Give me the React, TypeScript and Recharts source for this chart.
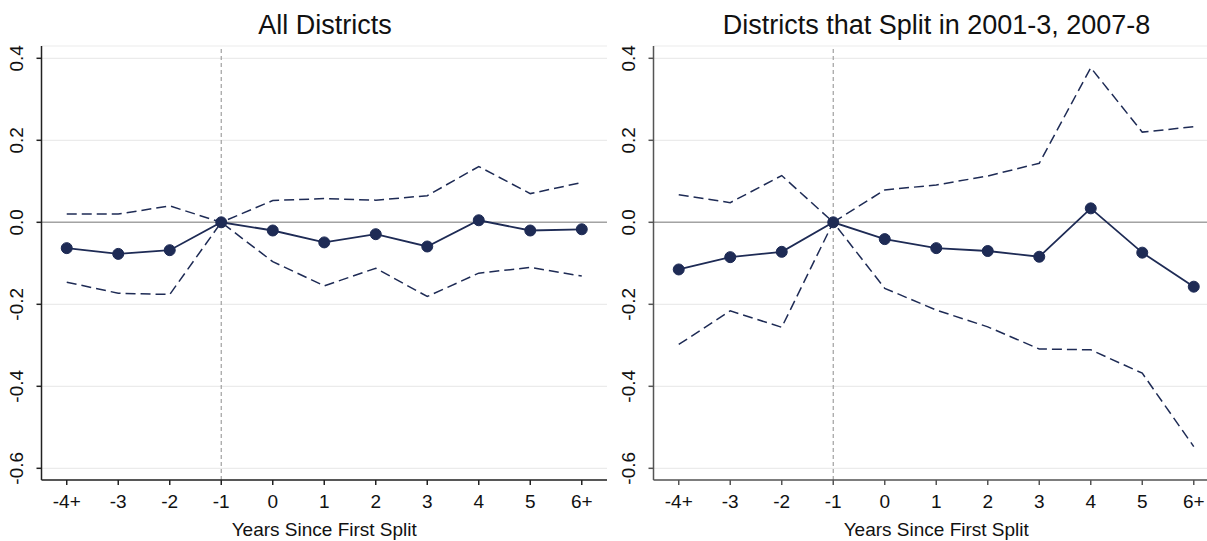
import React from 'react';
import { LineChart, Line, XAxis, YAxis, CartesianGrid, ReferenceLine, Label } from 'recharts';

const categories = ['-4+', '-3', '-2', '-1', '0', '1', '2', '3', '4', '5', '6+'];

const allEst = [-0.063, -0.077, -0.068, 0, -0.02, -0.049, -0.029, -0.059, 0.005, -0.02, -0.017];
const allUpper = [0.02, 0.02, 0.04, 0, 0.053, 0.058, 0.054, 0.065, 0.136, 0.07, 0.097];
const allLower = [-0.146, -0.173, -0.176, 0, -0.096, -0.155, -0.112, -0.181, -0.124, -0.11, -0.131];

const splitEst = [-0.115, -0.085, -0.072, 0, -0.041, -0.063, -0.07, -0.084, 0.034, -0.074, -0.157];
const splitUpper = [0.067, 0.048, 0.114, 0, 0.079, 0.091, 0.113, 0.144, 0.377, 0.22, 0.233];
const splitLower = [-0.298, -0.216, -0.256, 0, -0.161, -0.214, -0.255, -0.309, -0.311, -0.368, -0.547];

const yTicks = [-0.6, -0.4, -0.2, 0, 0.2, 0.4];
const xTicks = categories.map((_, i) => i);

const titles = ['All Districts', 'Districts that Split in 2001-3, 2007-8'];
const xAxisTitle = 'Years Since First Split';

const NAVY = '#1e2b55';
const FONT = '"Liberation Sans", Arial, Helvetica, sans-serif';

const build = (est: number[], up: number[], lo: number[]) =>
  categories.map((c, i) => ({ i, cat: c, est: est[i], up: up[i], lo: lo[i] }));

const XTick = (props: any) => {
  const { x, y, payload } = props;
  return (
    <text x={x} y={y} dy={21} textAnchor="middle" fontSize={19} fontFamily={FONT} fill="#111">
      {categories[payload.value]}
    </text>
  );
};

const YTick = (props: any) => {
  const { x, y, payload } = props;
  const cx = x - 18;
  return (
    <text
      x={cx}
      y={y}
      dy="0.35em"
      textAnchor="middle"
      fontSize={19}
      fontFamily={FONT}
      fill="#111"
      transform={`rotate(-90, ${cx}, ${y})`}
    >
      {payload.value.toFixed(1)}
    </text>
  );
};

const Panel = ({ data, axisColor }: { data: any[]; axisColor: string }) => (
  <LineChart width={612} height={541} data={data} margin={{ top: 46, right: 5, bottom: 1, left: 0 }}>
    <CartesianGrid horizontal={true} vertical={false} stroke="#ebebeb" strokeWidth={1.2} />
    <XAxis
      dataKey="i"
      type="number"
      domain={[-0.49, 10.49]}
      ticks={xTicks}
      allowDataOverflow
      interval={0}
      tick={<XTick />}
      tickSize={5}
      tickMargin={2}
      height={60}
      stroke={axisColor}
      strokeWidth={1.5}
    >
      <Label
        value={xAxisTitle}
        position="insideBottom"
        offset={4}
        style={{ fontSize: 19, fontFamily: FONT, fill: '#111' }}
      />
    </XAxis>
    <YAxis
      type="number"
      domain={[-0.6285, 0.43]}
      ticks={yTicks}
      allowDataOverflow
      interval={0}
      width={41.5}
      tick={<YTick />}
      tickSize={5}
      tickMargin={2}
      stroke={axisColor}
      strokeWidth={1.5}
    />
    <ReferenceLine y={0} stroke="#a3a3a3" strokeWidth={1.6} />
    <ReferenceLine x={3} stroke="#a0a0a0" strokeWidth={1.2} strokeDasharray="4 3" />
    <Line
      dataKey="up"
      stroke={NAVY}
      strokeWidth={1.5}
      strokeDasharray="10 5"
      dot={false}
      isAnimationActive={false}
    />
    <Line
      dataKey="lo"
      stroke={NAVY}
      strokeWidth={1.5}
      strokeDasharray="10 5"
      dot={false}
      isAnimationActive={false}
    />
    <Line
      dataKey="est"
      stroke={NAVY}
      strokeWidth={1.8}
      dot={{ r: 5.5, fill: NAVY, stroke: NAVY, strokeWidth: 1 }}
      isAnimationActive={false}
    />
  </LineChart>
);

const titleStyle = (center: number): React.CSSProperties => ({
  position: 'absolute',
  top: 9,
  left: center - 300,
  width: 600,
  textAlign: 'center',
  fontSize: 27,
  fontFamily: FONT,
  color: '#111',
  lineHeight: '32px',
  whiteSpace: 'nowrap',
});

export default function App() {
  const allData = build(allEst, allUpper, allLower);
  const splitData = build(splitEst, splitUpper, splitLower);
  return (
    <div
      style={{
        position: 'absolute',
        left: 0,
        top: 0,
        width: 1207,
        height: 541,
        overflow: 'hidden',
        background: '#fff',
      }}
    >
      <div style={{ position: 'absolute', left: 0, top: 0 }}>
        <Panel data={allData} axisColor="#222" />
      </div>
      <div style={{ position: 'absolute', left: 612, top: 0 }}>
        <Panel data={splitData} axisColor="#555" />
      </div>
      <div style={titleStyle(325)}>{titles[0]}</div>
      <div style={titleStyle(936.5)}>{titles[1]}</div>
    </div>
  );
}
